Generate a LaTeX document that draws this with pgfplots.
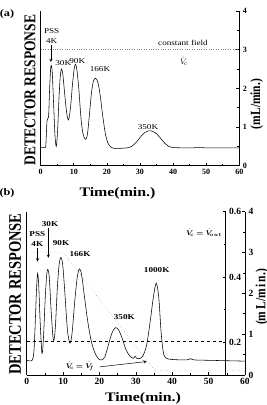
\documentclass[border=0pt]{standalone}
\usepackage{amsmath}
\usepackage{bm}
\usepackage{fontspec}
\setmainfont{Liberation Serif}
\usepackage{graphicx}
\usepackage{pgfplots}
\pgfplotsset{compat=1.18}
\newcommand{\hs}[1]{\scalebox{1.22}[1]{#1}}
\newcommand{\vs}[1]{\scalebox{1}[1.22]{#1}}

\pgfplotstableread{
x y
0 0.47
1 0.47
1.5 0.49
1.7 0.8
1.9 1.15
2.1 1.22
2.4 1.3
2.7 2.0
3.0 2.5
3.2 2.59
3.5 2.4
3.9 1.6
4.3 0.8
4.7 0.5
5.1 0.9
5.5 1.7
5.9 2.3
6.3 2.5
6.7 2.35
7.2 1.9
7.8 1.4
8.4 1.18
9.0 1.5
9.6 2.1
10.1 2.5
10.5 2.62
10.9 2.5
11.5 2.0
12.2 1.2
12.8 0.82
13.5 0.68
14.1 0.8
14.7 1.3
15.3 1.85
15.9 2.18
16.6 2.26
17.3 2.15
18.0 1.8
18.8 1.25
19.6 0.8
20.4 0.57
21.2 0.48
22 0.45
24 0.45
26 0.46
27.5 0.5
29 0.62
30.5 0.78
31.5 0.86
32.5 0.9
33.5 0.9
34.5 0.86
35.5 0.78
36.5 0.68
37.5 0.58
38.5 0.51
40 0.47
45 0.46
48 0.47
50 0.46
55 0.46
60 0.46
}\dataA

\pgfplotstableread{
x y
0 0.36
1.5 0.36
2.0 0.6
2.4 1.4
2.7 2.1
3.0 2.49
3.3 2.2
3.7 1.3
4.2 0.53
4.6 0.9
5.1 1.9
5.5 2.45
5.8 2.59
6.2 2.4
6.7 1.6
7.2 0.95
7.5 0.85
7.9 1.2
8.4 2.1
8.9 2.7
9.4 2.88
9.9 2.7
10.5 2.0
11.2 1.1
11.9 0.78
12.5 1.05
13.2 1.8
13.9 2.4
14.5 2.6
15.1 2.45
15.9 1.9
16.8 1.3
17.7 0.85
18.7 0.55
19.7 0.4
20.6 0.37
21.5 0.45
22.4 0.72
23.4 1.02
24.4 1.16
25.3 1.1
26.3 0.88
27.3 0.62
28.3 0.47
29.3 0.41
29.8 0.46
30.2 0.41
31 0.4
32 0.48
33 0.75
34 1.35
34.8 1.9
35.6 2.25
36.3 1.9
36.9 1.1
37.5 0.58
38.2 0.42
40 0.38
44 0.37
45 0.40
46 0.37
50 0.36
55 0.35
60 0.34
}\dataB

\begin{document}
\begin{tikzpicture}
\useasboundingbox (0pt,0pt) rectangle (267pt,-405pt);

\pgfplotsset{
  myax/.style={
    scale only axis, xmin=0, xmax=60, ymin=0, ymax=4,
    axis x line*=bottom, axis y line*=right,
    axis line style={black, line width=0.6pt, -},
    xtick={0,10,...,60}, minor x tick num=1,
    ytick={0,1,2,3,4}, minor y tick num=1,
    tick align=inside, tick style={black, line width=0.6pt},
    major tick length=3pt, minor tick length=2pt,
    /pgf/number format/assume math mode=true,
    clip=false,
  }
}

% ---------- panel (a)
\begin{axis}[myax, at={(40.7pt,-165.7pt)}, anchor=south west,
  width=198.6pt, height=154.7pt,
  ticklabel style={font=\bfseries\fontsize{8}{9}\selectfont}]
\draw[line width=0.6pt] (rel axis cs:0,0) -- (rel axis cs:0,1);
\addplot[gray, dotted, line width=0.4pt] coordinates {(0,3) (60,3)};
\addplot[black, line width=0.55pt, smooth, tension=0.5] table[x=x,y=y] {\dataA};
\draw[-stealth, line width=0.5pt] (axis cs:3.1,3.12) -- (axis cs:3.1,2.68);
\end{axis}

% ---------- panel (b)
\begin{axis}[myax, at={(26.7pt,-375pt)}, anchor=south west,
  width=218.3pt, height=163.3pt,
  ticklabel style={font=\bfseries\fontsize{9.5}{10}\selectfont}]
\draw[line width=0.6pt] (rel axis cs:0,0) -- (rel axis cs:0,1);
\addplot[black, dashed, line width=0.4pt] coordinates {(0,0.82) (54.7,0.82)};
\addplot[gray, dotted, line width=0.4pt] coordinates {(0.5,3) (10,3) (35.3,0.1) (60,0.1)};
\addplot[black, line width=0.55pt, smooth, tension=0.5] table[x=x,y=y] {\dataB};
\draw[-stealth, line width=0.5pt] (axis cs:3.0,3.1) -- (axis cs:3.0,2.78);
\draw[-stealth, line width=0.5pt] (axis cs:5.94,3.6) -- (axis cs:5.94,2.87);
\draw[-stealth, line width=0.5pt] (axis cs:20.1,0.2) -- (axis cs:33,0.33);
\end{axis}

% inner right axis of (b)
\begin{axis}[scale only axis, at={(26.7pt,-375pt)}, anchor=south west,
  width=199pt, height=163.3pt,
  xmin=0, xmax=60, ymin=0.1, ymax=0.6,
  hide x axis, axis y line*=right,
  axis line style={black, line width=0.6pt, -},
  ytick={0.2,0.4,0.6}, yticklabels={0.2,0.4,0.6}, minor y tick num=1,
  tick align=inside, tick style={black, line width=0.6pt},
  major tick length=3pt, minor tick length=2pt,
  ticklabel style={font=\bfseries\fontsize{9.5}{10}\selectfont}]
\addplot[draw=none] coordinates {(0,0.2)};
\end{axis}

% ---------- texts (a)
\node[font=\bfseries\fontsize{10}{11}\selectfont] at (7pt,-14pt) {\hs{(a)}};
\node[font=\fontsize{7.5}{8}\selectfont] at (51.7pt,-31pt) {\hs{PSS}};
\node[font=\fontsize{7.5}{8}\selectfont] at (51.7pt,-40.7pt) {\hs{4K}};
\node[font=\fontsize{7.5}{8}\selectfont] at (63.3pt,-63.3pt) {\hs{30K}};
\node[font=\fontsize{7.5}{8}\selectfont] at (77.3pt,-61pt) {\hs{90K}};
\node[font=\fontsize{7.5}{8}\selectfont] at (100pt,-69.3pt) {\hs{166K}};
\node[font=\fontsize{7.5}{8}\selectfont] at (148pt,-126.7pt) {\hs{350K}};
\node[font=\fontsize{7.5}{8}\selectfont] at (183pt,-42.7pt) {\hs{constant field}};
\node[font=\fontsize{8}{9}\selectfont] at (184pt,-61pt) {$\dot{V}_{\!c}$};
\node[font=\bfseries\fontsize{13.5}{14}\selectfont, rotate=90] at (30pt,-90pt) {\vs{DETECTOR RESPONSE}};
\node[font=\bfseries\fontsize{11.5}{12}\selectfont, rotate=90] at (256.7pt,-104pt) {\vs{(mL/min.)}};
\node[font=\bfseries\fontsize{13}{14}\selectfont] at (117.5pt,-193pt) {\hs{Time(min.)}};

% ---------- texts (b)
\node[font=\bfseries\fontsize{10}{11}\selectfont] at (7pt,-193pt) {\hs{(b)}};
\node[font=\bfseries\fontsize{7.5}{8}\selectfont] at (37.3pt,-234.3pt) {\hs{PSS}};
\node[font=\bfseries\fontsize{7.5}{8}\selectfont] at (37.3pt,-244.3pt) {\hs{4K}};
\node[font=\bfseries\fontsize{7.5}{8}\selectfont] at (50pt,-224.3pt) {\hs{30K}};
\node[font=\bfseries\fontsize{7.5}{8}\selectfont] at (61pt,-243.3pt) {\hs{90K}};
\node[font=\bfseries\fontsize{7.5}{8}\selectfont] at (80pt,-254.3pt) {\hs{166K}};
\node[font=\bfseries\fontsize{7.5}{8}\selectfont] at (124.3pt,-317.5pt) {\hs{350K}};
\node[font=\bfseries\fontsize{7.5}{8}\selectfont] at (156.7pt,-270pt) {\hs{1000K}};
\node[font=\fontsize{7.5}{8}\selectfont] at (204pt,-233pt) {$\bm{\dot{V}_{\!c}=\dot{V}_{\!out}}$};
\node[font=\fontsize{7.5}{8}\selectfont] at (80pt,-366pt) {$\bm{\dot{V}_{\!c}=\dot{V}_{\!f}}$};
\node[font=\bfseries\fontsize{14.5}{15}\selectfont, rotate=90] at (15pt,-294pt) {\vs{DETECTOR RESPONSE}};
\node[font=\bfseries\fontsize{11.5}{12}\selectfont, rotate=90] at (262pt,-297pt) {\vs{(m\,L/m\,i\,n.)}};
\node[font=\bfseries\fontsize{13}{14}\selectfont] at (143pt,-398pt) {\hs{Time(min.)}};
\end{tikzpicture}
\end{document}
